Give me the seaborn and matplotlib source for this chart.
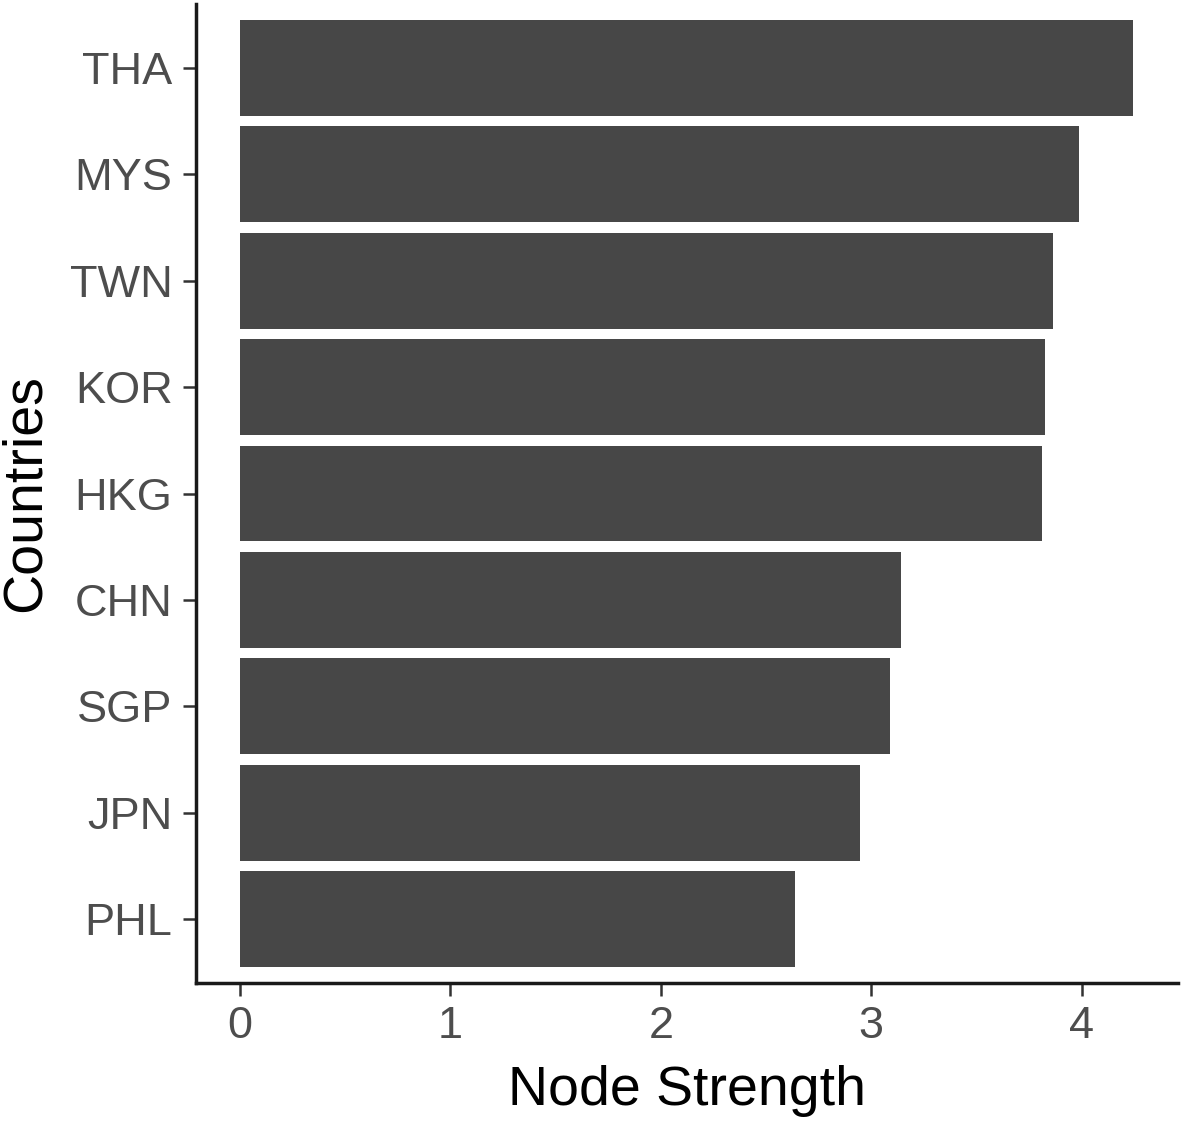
import matplotlib
matplotlib.use("Agg")
import matplotlib.pyplot as plt
import seaborn as sns
import pandas as pd

countries = ["THA", "MYS", "TWN", "KOR", "HKG", "CHN", "SGP", "JPN", "PHL"]
node_strength = [4.244, 3.99, 3.864, 3.826, 3.81, 3.143, 3.088, 2.945, 2.637]

df = pd.DataFrame({"Countries": countries, "Node Strength": node_strength})

sns.set_theme(style="ticks")
plt.rcParams["font.family"] = ["Liberation Sans", "DejaVu Sans"]

fig = plt.figure(figsize=(11.81, 11.24), dpi=100)
ax = fig.add_axes([195.5 / 1181, 1 - 983 / 1124, (1177.5 - 195.5) / 1181, (983 - 4) / 1124])

sns.barplot(data=df, x="Node Strength", y="Countries", order=countries,
            color="#474747", saturation=1, width=0.9, orient="h", ax=ax,
            edgecolor="none", linewidth=0)

xmax = max(node_strength)
ax.set_xlim(-0.05 * xmax, 1.05 * xmax)
ax.set_ylim(len(countries) - 1 + 0.6, -0.6)
ax.set_xticks([0, 1, 2, 3, 4])
ax.set_xticklabels(["0", "1", "2", "3", "4"])

for s in ["top", "right"]:
    ax.spines[s].set_visible(False)
for s in ["left", "bottom"]:
    ax.spines[s].set_linewidth(2.5)
    ax.spines[s].set_color("#1a1a1a")

ax.tick_params(axis="both", length=9.5, width=1.8, color="#333333",
               labelsize=32.5, labelcolor="#4D4D4D", pad=7)
ax.set_xlabel("Node Strength", fontsize=40, color="black", labelpad=13)
ax.set_ylabel("Countries", fontsize=40, color="black", labelpad=13)

fig.savefig("out.png", dpi=100)
